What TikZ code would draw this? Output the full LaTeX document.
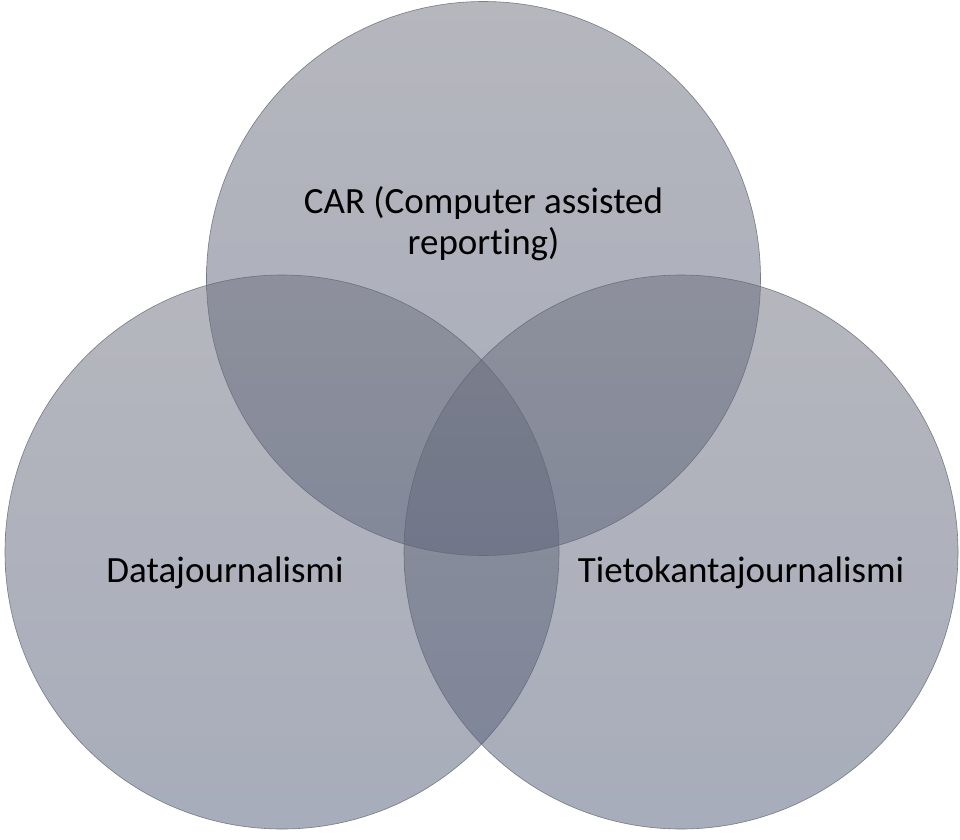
\documentclass[tikz,border=0pt]{standalone}
\usepackage{fontspec}
\setmainfont{Carlito}[Ligatures={NoCommon}]
\definecolor{circtop}{rgb}{0.43,0.44,0.49}
\definecolor{circbot}{rgb}{0.32,0.36,0.47}
\definecolor{circline}{rgb}{0.38,0.40,0.45}
\begin{document}
\begin{tikzpicture}[x=1pt,y=-1pt,
  venn/.style={circle, minimum size=554pt, inner sep=0pt, draw=circline, line width=0.6pt,
    top color=circtop, bottom color=circbot, fill opacity=0.5, draw opacity=0.8},
  lbl/.style={font=\fontsize{37}{41}\selectfont, text=black, align=center, inner sep=0pt}]
\useasboundingbox (0,0) rectangle (960,839);
\fill[white] (0,0) rectangle (960,839);
\node[venn] (car) at (483.5,278.5) {};
\node[venn] (data) at (282,552) {};
\node[venn] (tieto) at (681,552) {};
\node[lbl, anchor=base] (carl) at (483.5,254) {CAR (Computer assisted\\reporting)};
\node[lbl, anchor=base] (datal) at (225,582) {Datajournalismi};
\node[lbl, anchor=base] (tietol) at (741,582) {Tietokantajournalismi};
\end{tikzpicture}
\end{document}
